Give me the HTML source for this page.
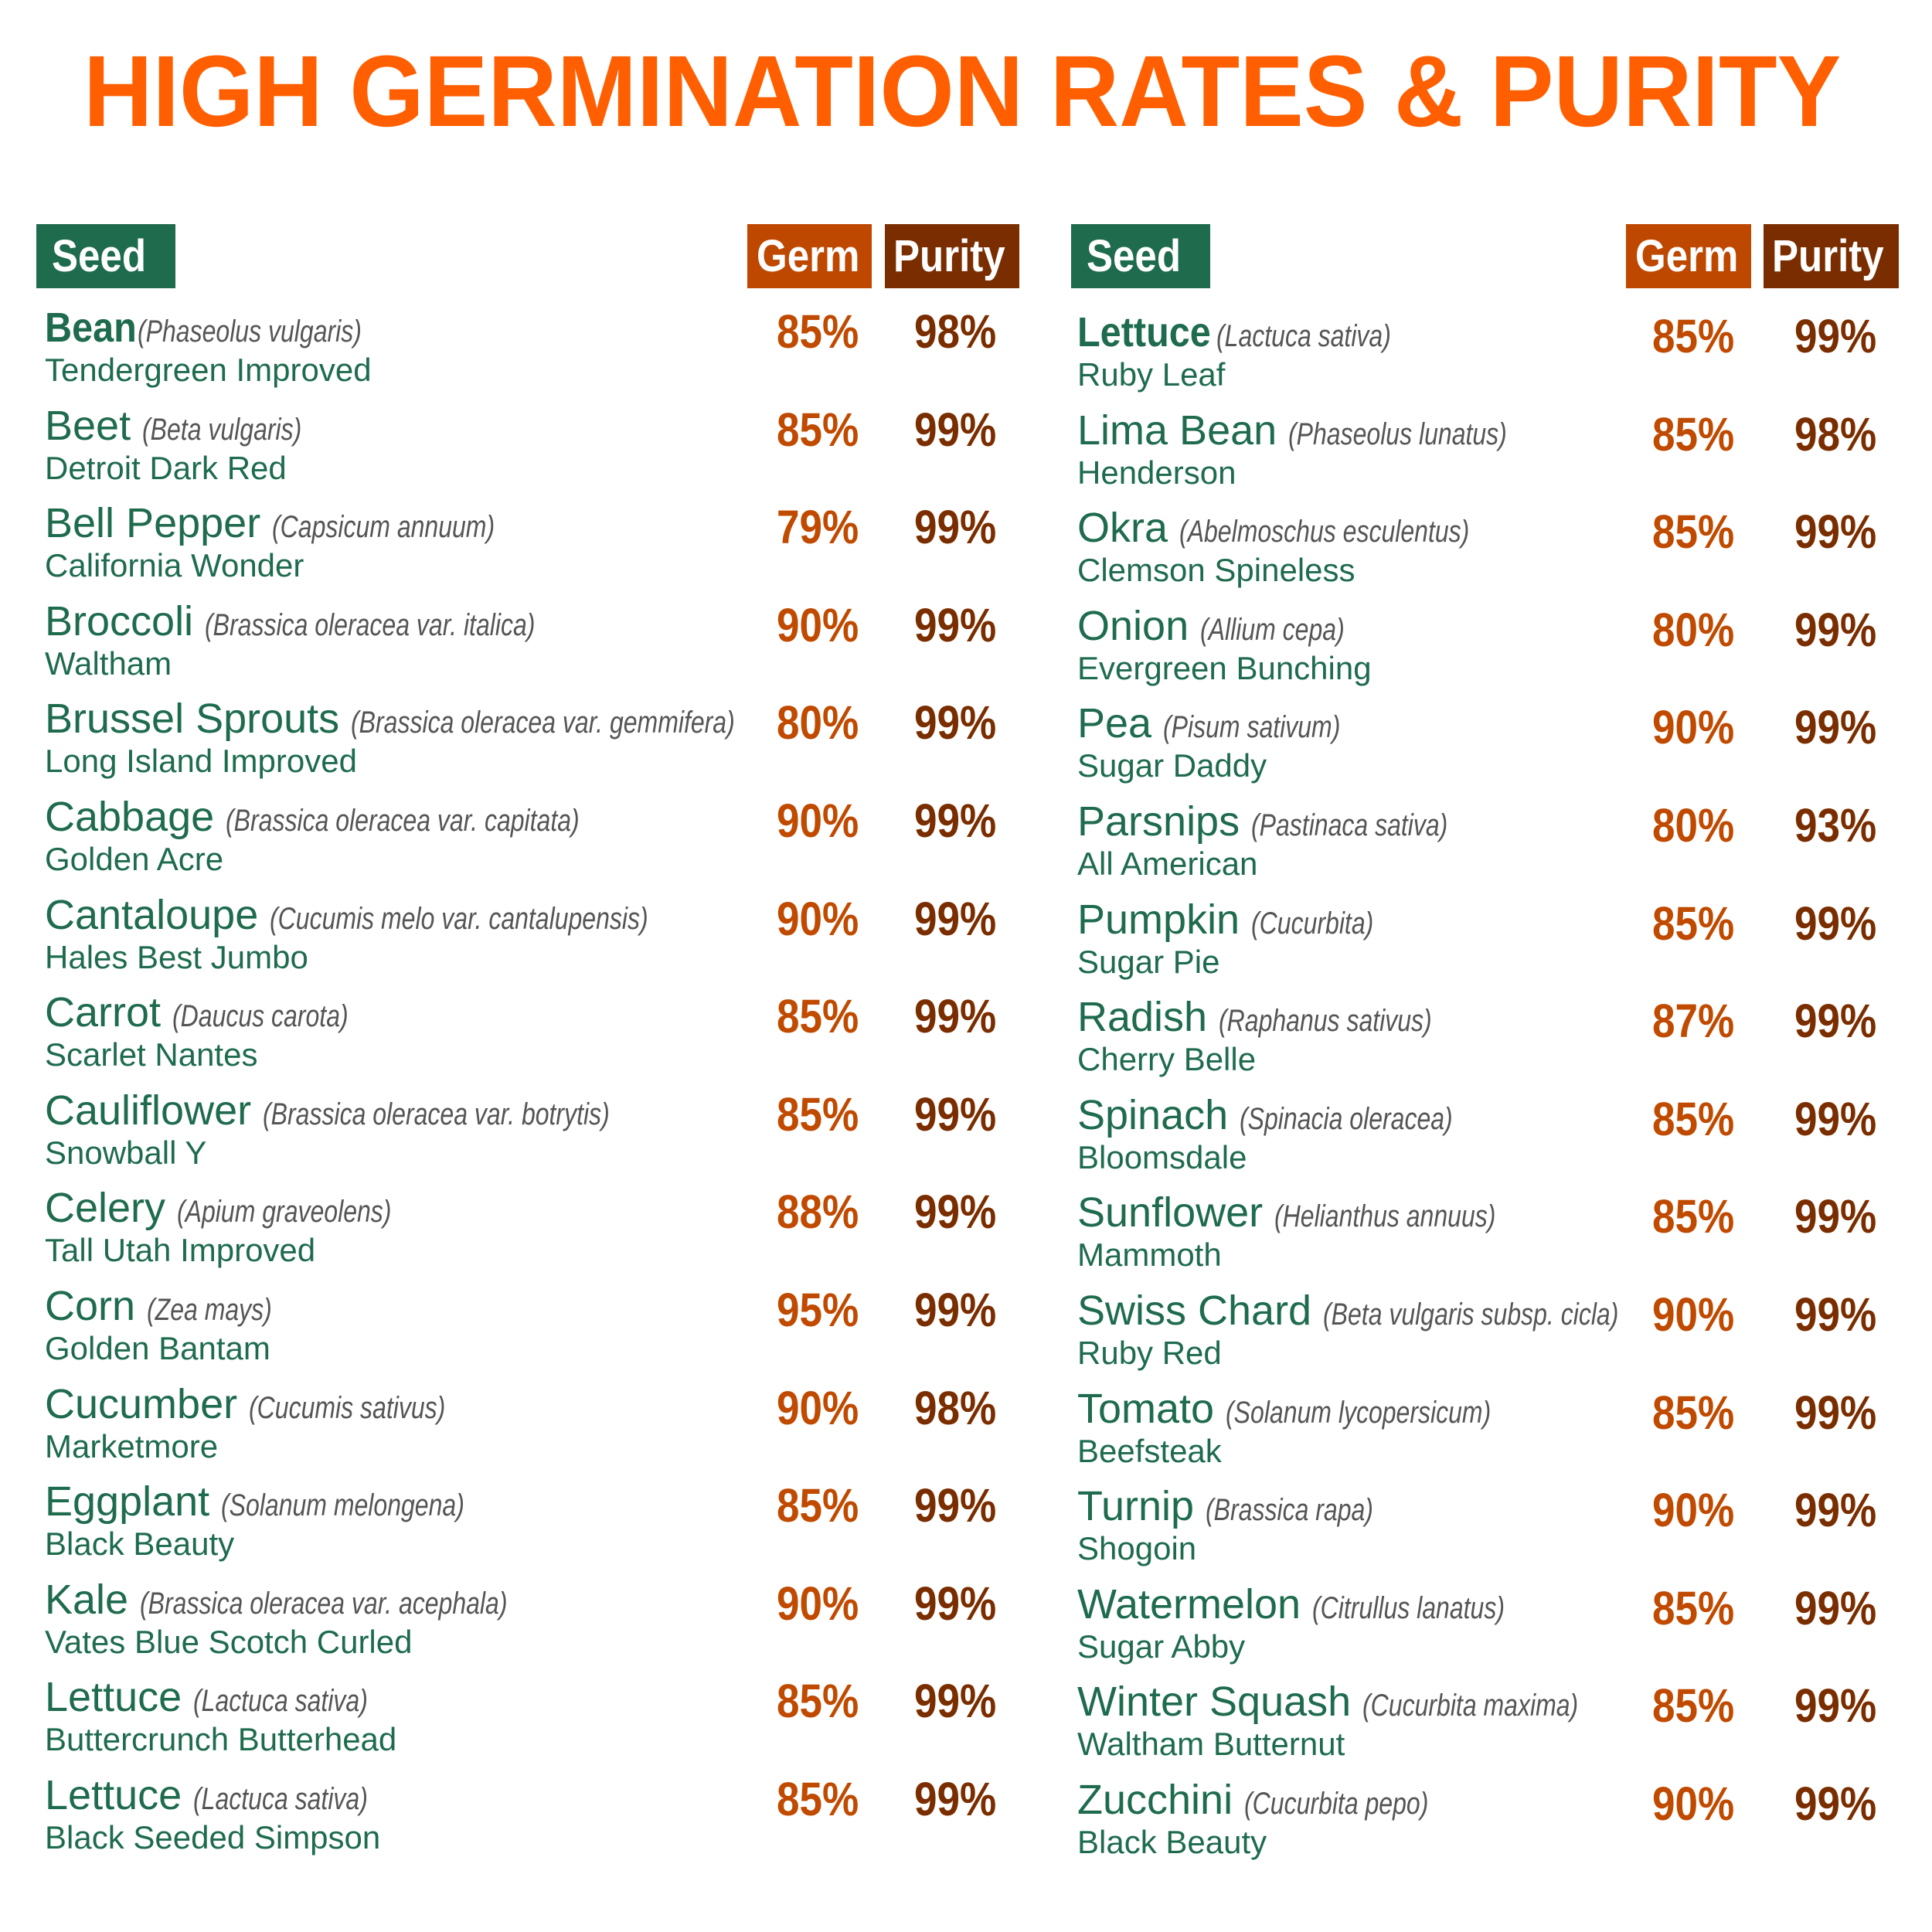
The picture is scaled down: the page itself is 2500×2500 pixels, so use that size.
<!DOCTYPE html>
<html><head><meta charset="utf-8">
<style>
body{margin:0;background:#fff;}
#page{position:relative;width:2500px;height:2500px;overflow:hidden;background:#fff;font-family:"Liberation Sans",sans-serif;}
.title{position:absolute;left:108px;top:52px;font-size:131px;font-weight:bold;color:#ff5f00;white-space:nowrap;transform:scaleX(0.946);transform-origin:left top;line-height:1;}
.hdr{position:absolute;top:290px;height:83px;color:#fff;font-weight:bold;font-size:58px;line-height:83px;white-space:nowrap;}
.hdr span{display:inline-block;transform:scaleX(0.88);transform-origin:left center;}
.line1{position:absolute;white-space:nowrap;color:#1e6b4e;font-size:54px;line-height:1;}
.sci{font-style:italic;color:#555;font-size:40px;display:inline-block;transform:scaleX(0.8);transform-origin:left bottom;}
.var{position:absolute;white-space:nowrap;color:#1e6b4e;font-size:42px;line-height:1;}
.pct{position:absolute;white-space:nowrap;font-weight:bold;font-size:61px;line-height:1;transform:scaleX(0.87);transform-origin:left top;}
</style></head><body>
<div id="page">
<div class="title">HIGH GERMINATION RATES &amp; PURITY</div>
<div class="hdr" style="left:47px;width:180px;background:#1e6b4e;"><span style="margin-left:20px">Seed</span></div>
<div class="hdr" style="left:967px;width:161px;background:#bf4800;"><span style="margin-left:12px">Germ</span></div>
<div class="hdr" style="left:1145px;width:174px;background:#7a2e00;"><span style="margin-left:11px">Purity</span></div>
<div class="hdr" style="left:1386px;width:180px;background:#1e6b4e;"><span style="margin-left:20px">Seed</span></div>
<div class="hdr" style="left:2104px;width:162px;background:#bf4800;"><span style="margin-left:12px">Germ</span></div>
<div class="hdr" style="left:2282px;width:175px;background:#7a2e00;"><span style="margin-left:11px">Purity</span></div>
</div>
<script>
const leftNames=["Bean","Beet","Bell Pepper","Broccoli","Brussel Sprouts","Cabbage","Cantaloupe","Carrot","Cauliflower","Celery","Corn","Cucumber","Eggplant","Kale","Lettuce","Lettuce"];
const leftSci=["Phaseolus vulgaris","Beta vulgaris","Capsicum annuum","Brassica oleracea var. italica","Brassica oleracea var. gemmifera","Brassica oleracea var. capitata","Cucumis melo var. cantalupensis","Daucus carota","Brassica oleracea var. botrytis","Apium graveolens","Zea mays","Cucumis sativus","Solanum melongena","Brassica oleracea var. acephala","Lactuca sativa","Lactuca sativa"];
const leftVar=["Tendergreen Improved","Detroit Dark Red","California Wonder","Waltham","Long Island Improved","Golden Acre","Hales Best Jumbo","Scarlet Nantes","Snowball Y","Tall Utah Improved","Golden Bantam","Marketmore","Black Beauty","Vates Blue Scotch Curled","Buttercrunch Butterhead","Black Seeded Simpson"];
const leftGerm=[85,85,79,90,80,90,90,85,85,88,95,90,85,90,85,85];
const leftPurity=[98,99,99,99,99,99,99,99,99,99,99,98,99,99,99,99];
const rightNames=["Lettuce","Lima Bean","Okra","Onion","Pea","Parsnips","Pumpkin","Radish","Spinach","Sunflower","Swiss Chard","Tomato","Turnip","Watermelon","Winter Squash","Zucchini"];
const rightSci=["Lactuca sativa","Phaseolus lunatus","Abelmoschus esculentus","Allium cepa","Pisum sativum","Pastinaca sativa","Cucurbita","Raphanus sativus","Spinacia oleracea","Helianthus annuus","Beta vulgaris subsp. cicla","Solanum lycopersicum","Brassica rapa","Citrullus lanatus","Cucurbita maxima","Cucurbita pepo"];
const rightVar=["Ruby Leaf","Henderson","Clemson Spineless","Evergreen Bunching","Sugar Daddy","All American","Sugar Pie","Cherry Belle","Bloomsdale","Mammoth","Ruby Red","Beefsteak","Shogoin","Sugar Abby","Waltham Butternut","Black Beauty"];
const rightGerm=[85,85,85,80,90,80,85,87,85,85,90,85,90,85,85,90];
const rightPurity=[99,98,99,99,99,93,99,99,99,99,99,99,99,99,99,99];

const page=document.getElementById('page');
const PITCH=126.6;
function col(names,sci,vars,germ,pur,x0,base0,gx,px,side){
  for(let i=0;i<names.length;i++){
    const b=base0+i*PITCH;
    const l=document.createElement('div');
    l.className='line1';
    
    
    l.style.left=x0+'px';
    l.style.top=(b-49)+'px';
    const n=document.createElement('span');
    n.textContent=names[i]+' ';
    if(i===0){n.style.fontWeight='bold';n.style.display='inline-block';n.style.transform='scaleX(0.9)';n.style.transformOrigin='left bottom';n.style.marginRight='-12px';}
    l.appendChild(n);
    const s=document.createElement('span');
    s.className='sci';
    
    
    s.textContent='('+sci[i]+')';
    l.appendChild(s);
    page.appendChild(l);
    const v=document.createElement('div');
    v.className='var';
    
    
    v.style.left=x0+'px';
    v.style.top=(b+50-38)+'px';
    v.textContent=vars[i];
    page.appendChild(v);
    const g=document.createElement('div');
    g.className='pct';
    
    
    g.style.left=gx+'px';
    g.style.top=(b+8-55)+'px';
    g.style.color='#c04a00';
    g.textContent=germ[i]+'%';
    page.appendChild(g);
    const p=document.createElement('div');
    p.className='pct';
    
    
    p.style.left=px+'px';
    p.style.top=(b+8-55)+'px';
    p.style.color='#7a2e00';
    p.textContent=pur[i]+'%';
    page.appendChild(p);
  }
}
col(leftNames,leftSci,leftVar,leftGerm,leftPurity,58,446,1005,1183,'left');
col(rightNames,rightSci,rightVar,rightGerm,rightPurity,1394,452,2138,2322,'right');
</script>
</body></html>
